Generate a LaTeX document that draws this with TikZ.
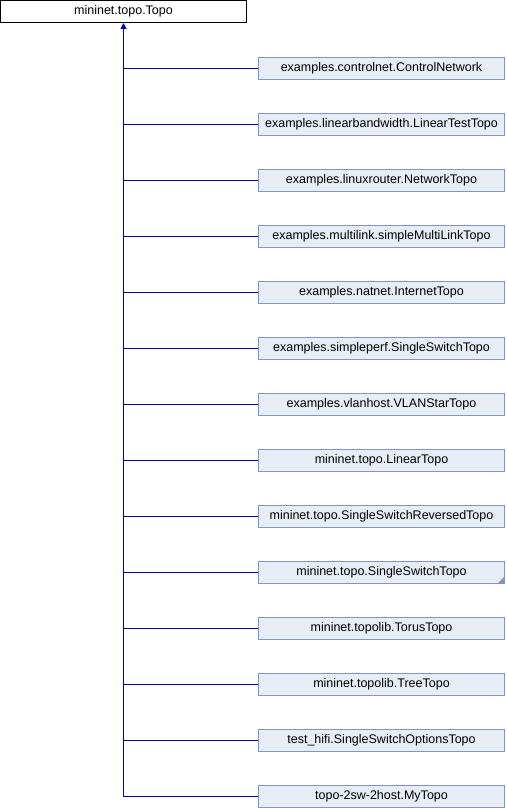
\documentclass[tikz,border=0pt]{standalone}
\usepackage{fontspec}
\setmainfont{Liberation Sans}
\usetikzlibrary{positioning, arrows.meta}

\definecolor{classfill}{HTML}{E8ECF5}
\definecolor{classline}{HTML}{7F95C9}
\definecolor{inherit}{HTML}{0000A0}

\begin{document}
\begin{tikzpicture}[
    node distance=33pt,
    cls/.style={
      rectangle, draw=classline, fill=classfill, line width=1pt,
      minimum width=246pt, minimum height=22pt, inner sep=0pt,
      font=\fontsize{12.5}{14}\selectfont,
    },
    base/.style={cls, draw=black, fill=white},
    link/.style={draw=inherit, line width=1pt},
    arrow/.style={link, -{Triangle[length=6pt, width=6pt]}},
]
\useasboundingbox (0,0) rectangle (506pt,-808pt);

\node[base, anchor=north west] (root) at (0,0) {mininet.topo.Topo};

\node[cls, anchor=north west] (c1) at (258pt,-57pt) {examples.controlnet.ControlNetwork};
\node[cls, below=of c1]  (c2)  {examples.linearbandwidth.LinearTestTopo};
\node[cls, below=of c2]  (c3)  {examples.linuxrouter.NetworkTopo};
\node[cls, below=of c3]  (c4)  {examples.multilink.simpleMultiLinkTopo};
\node[cls, below=of c4]  (c5)  {examples.natnet.InternetTopo};
\node[cls, below=of c5]  (c6)  {examples.simpleperf.SingleSwitchTopo};
\node[cls, below=of c6]  (c7)  {examples.vlanhost.VLANStarTopo};
\node[cls, below=of c7]  (c8)  {mininet.topo.LinearTopo};
\node[cls, below=of c8]  (c9)  {mininet.topo.SingleSwitchReversedTopo};
\node[cls, below=of c9]  (c10) {mininet.topo.SingleSwitchTopo};
\node[cls, below=of c10] (c11) {mininet.topolib.TorusTopo};
\node[cls, below=of c11] (c12) {mininet.topolib.TreeTopo};
\node[cls, below=of c12] (c13) {test\_hifi.SingleSwitchOptionsTopo};
\node[cls, below=of c13] (c14) {topo-2sw-2host.MyTopo};

% more derived classes marker
\fill[classline] ([shift={(-1pt,1pt)}]c10.south east) -- ++(0,6pt) -- ++(-6pt,-6pt) -- cycle;

% inheritance
\draw[arrow] (c14.west) -| (root.south);
\foreach \c in {c1,c2,c3,c4,c5,c6,c7,c8,c9,c10,c11,c12,c13}
    \draw[link] (\c.west) -- (\c.west -| root.south);
\end{tikzpicture}
\end{document}
